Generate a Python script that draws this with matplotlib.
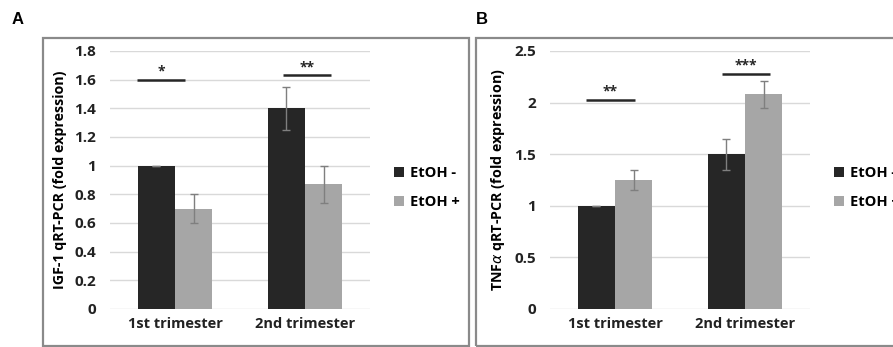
import matplotlib
matplotlib.use('Agg')
import matplotlib.pyplot as plt
import numpy as np
from matplotlib.patches import Rectangle

# ── data ──────────────────────────────────────────────────────────────────────
groups = ['1st trimester', '2nd trimester']
series = ['EtOH -', 'EtOH +']

igf_neg = [1.0, 1.40]
igf_pos = [0.70, 0.87]
igf_neg_err = [0.0, 0.15]
igf_pos_err = [0.10, 0.13]

tnf_neg = [1.0, 1.50]
tnf_pos = [1.25, 2.08]
tnf_neg_err = [0.0, 0.15]
tnf_pos_err = [0.10, 0.13]

igf_stars = ['*', '**']
igf_star_y = [1.60, 1.63]
tnf_stars = ['**', '***']
tnf_star_y = [2.03, 2.28]

C_DARK  = '#262626'
C_LIGHT = '#a6a6a6'
C_ERR   = '#7f7f7f'
C_GRID  = '#d9d9d9'
C_FRAME = '#8a8a8a'
FONT = ['Open Sans', 'DejaVu Sans']

W, H = 893, 347
fig = plt.figure(figsize=(W / 100, H / 100), dpi=100)
fig.patch.set_facecolor('white')


def px_axes(x0, y0, x1, y1):
    # pixel box (top-left origin) -> figure axes
    return fig.add_axes([x0 / W, 1 - y1 / H, (x1 - x0) / W, (y1 - y0) / H])


def frame(x0, y0, x1, y1):
    fig.patches.append(Rectangle((x0 / W, 1 - y1 / H), (x1 - x0) / W, (y1 - y0) / H,
                                 transform=fig.transFigure, fill=False,
                                 edgecolor=C_FRAME, lw=1.6, zorder=0))


def panel(ax, neg, pos, neg_err, pos_err, ymax, ystep, ylabel, stars, star_y,
          star_off, ticklabels):
    x = np.arange(len(groups))
    bw = 0.285
    ax.bar(x - bw / 2, neg, bw, color=C_DARK, zorder=3, label=series[0])
    ax.bar(x + bw / 2, pos, bw, color=C_LIGHT, zorder=3, label=series[1])
    ax.errorbar(x - bw / 2, neg, yerr=neg_err, fmt='none', ecolor=C_ERR,
                elinewidth=1.0, capsize=3, capthick=1.0, zorder=4)
    ax.errorbar(x + bw / 2, pos, yerr=pos_err, fmt='none', ecolor=C_ERR,
                elinewidth=1.0, capsize=3, capthick=1.0, zorder=4)
    # significance bars
    for xi, s, sy, off in zip(x, stars, star_y, star_off):
        x0, x1 = xi + off, xi + off + 0.37
        ax.plot([x0, x1], [sy, sy], color=C_DARK, lw=1.8, zorder=5,
                solid_capstyle='butt')
        ax.text((x0 + x1) / 2, sy + ymax * 0.005, s, ha='center', va='bottom',
                fontsize=10, fontweight='bold', color=C_DARK, family=FONT)
    ax.set_xlim(-0.5, 1.5)
    ax.set_ylim(0, ymax)
    yt = np.arange(0, ymax + 1e-9, ystep)
    ax.set_yticks(yt)
    ax.set_yticklabels(ticklabels, fontsize=11, fontweight='bold', family=FONT)
    ax.set_xticks(x)
    ax.set_xticklabels(groups, fontsize=10.5, fontweight='bold', family=FONT)
    ax.tick_params(length=0, pad=10, colors='#222222')
    ax.tick_params(axis='x', pad=6)
    ax.grid(axis='y', color=C_GRID, lw=1.0, zorder=0)
    ax.set_axisbelow(True)
    for sp in ax.spines.values():
        sp.set_visible(False)
    ax.set_ylabel(ylabel, fontsize=10.3, fontweight='bold', family=FONT, labelpad=5)
    ax.legend(loc='center left', bbox_to_anchor=(1.04, 0.47), frameon=False,
              handlelength=0.7, handleheight=0.7, handletextpad=0.4,
              labelspacing=1.0, prop={'family': FONT, 'weight': 'bold', 'size': 10.5})


# frames
frame(43, 38, 469, 346)
frame(476, 38, 900, 346)

# panel A
axA = px_axes(110, 51, 370, 309)
panel(axA, igf_neg, igf_pos, igf_neg_err, igf_pos_err, 1.8, 0.2,
      'IGF-1 qRT-PCR (fold expression)', igf_stars, igf_star_y, [-0.29, -0.17],
      ['0', '0.2', '0.4', '0.6', '0.8', '1', '1.2', '1.4', '1.6', '1.8'])

# panel B
axB = px_axes(550, 51, 810, 309)
panel(axB, tnf_neg, tnf_pos, tnf_neg_err, tnf_pos_err, 2.5, 0.5,
      r'TNF$\alpha$ qRT-PCR (fold expression)', tnf_stars, tnf_star_y, [-0.22, -0.18],
      ['0', '0.5', '1', '1.5', '2', '2.5'])

# panel letters
fig.text(12 / W, 1 - 20 / H, 'A', fontsize=12, fontweight='bold', va='center',
         family='Liberation Sans')
fig.text(476 / W, 1 - 20 / H, 'B', fontsize=12, fontweight='bold', va='center',
         family='Liberation Sans')

fig.savefig('out.png', dpi=100, facecolor='white')
